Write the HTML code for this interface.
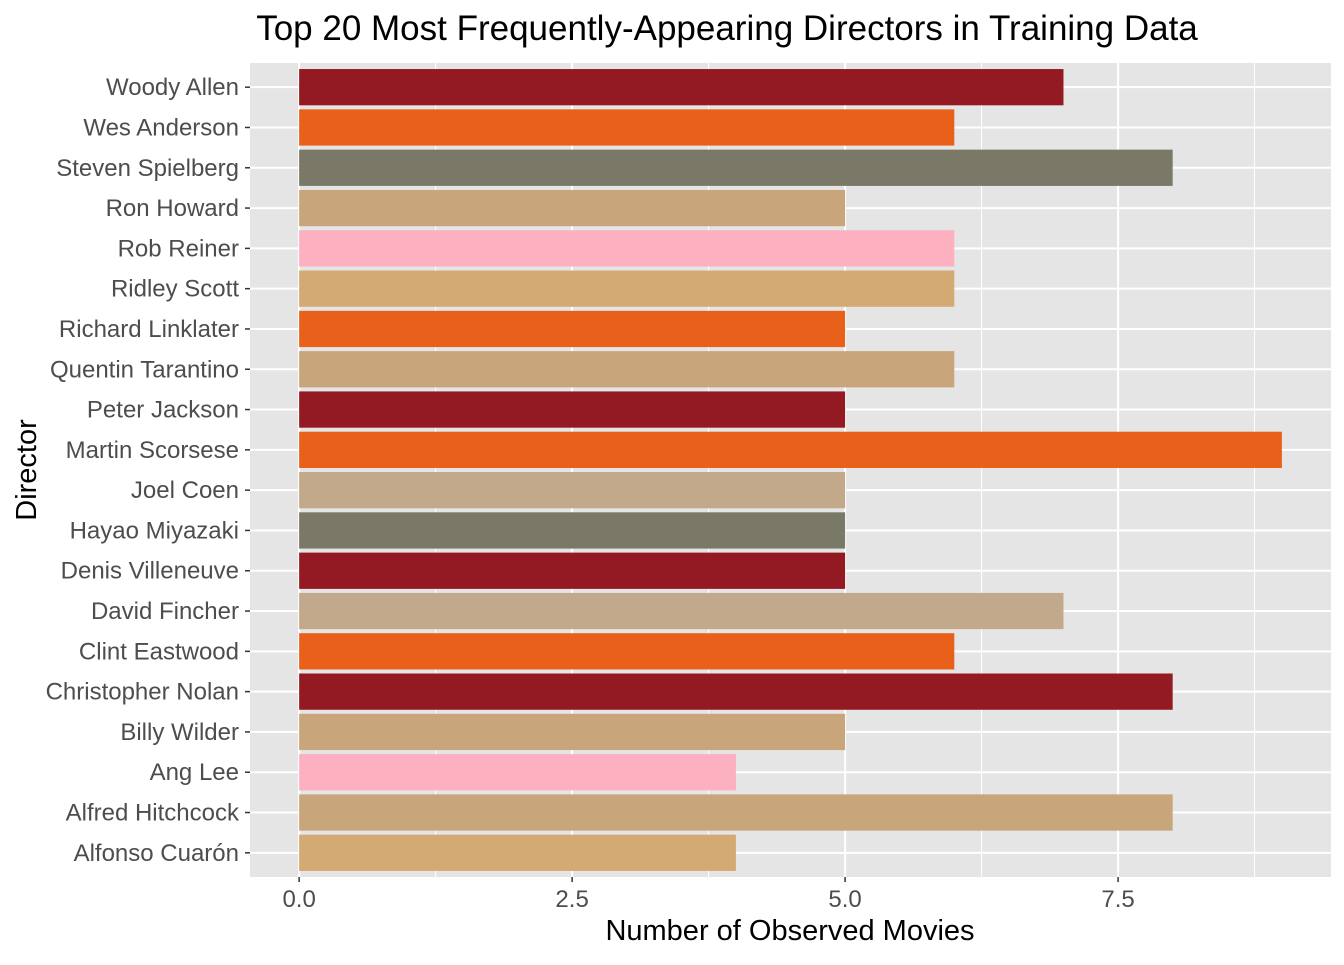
<!DOCTYPE html>
<html><head><meta charset="utf-8"><style>
body{margin:0;background:#fff;}
svg text{font-family:"Liberation Sans",Arial,sans-serif;}
</style></head><body>
<svg id="chart" width="1344" height="960" xmlns="http://www.w3.org/2000/svg">
<text x="727" y="40" font-size="35" text-anchor="middle" fill="#000">Top 20 Most Frequently-Appearing Directors in Training Data</text>
<rect x="250" y="63" width="1081" height="814" fill="#E5E5E5"/>
<g id="grid"></g><g id="bars"></g><g id="axes"></g>
<text x="790" y="940" font-size="29" text-anchor="middle" fill="#000">Number of Observed Movies</text>
<text transform="translate(36,470) rotate(-90)" font-size="29" text-anchor="middle" fill="#000">Director</text>
</svg>
<script>
const directors=["Woody Allen","Wes Anderson","Steven Spielberg","Ron Howard","Rob Reiner","Ridley Scott","Richard Linklater","Quentin Tarantino","Peter Jackson","Martin Scorsese","Joel Coen","Hayao Miyazaki","Denis Villeneuve","David Fincher","Clint Eastwood","Christopher Nolan","Billy Wilder","Ang Lee","Alfred Hitchcock","Alfonso Cuarón"];
const counts=[7,6,8,5,6,6,5,6,5,9,5,5,5,7,6,8,5,4,8,4];
const colors=["#931A22","#E8601A","#7A7866","#C8A57A","#FDB0C0","#D4AA74","#E8601A","#C8A57A","#931A22","#E8601A","#C2A98C","#7A7866","#931A22","#C2A98C","#E8601A","#931A22","#C8A57A","#FDB0C0","#C8A57A","#D4AA74"];
const xTicks=[0,2.5,5,7.5];
const xTickLabels=["0.0","2.5","5.0","7.5"];
const NS="http://www.w3.org/2000/svg";
const x0=250,x1=1331,y0=63,y1=877;
const xmin=-0.45,xmax=9.45;
const xs=v=>x0+(v-xmin)/(xmax-xmin)*(x1-x0);
const n=directors.length;
const step=(y1-y0)/(n-1+1.2);
const ys=i=>y0+step*(0.6+i);
function mk(tag,attrs,parent){const e=document.createElementNS(NS,tag);for(const k in attrs)e.setAttribute(k,attrs[k]);document.getElementById(parent).appendChild(e);return e;}
const minor=[1.25,3.75,6.25,8.75];
minor.forEach(v=>{const l=mk('line',{x1:xs(v),x2:xs(v),y1:y0,y2:y1,stroke:'#fff','stroke-width':1},'grid');

});
xTicks.forEach((v,i)=>{const l=mk('line',{x1:xs(v),x2:xs(v),y1:y0,y2:y1,stroke:'#fff','stroke-width':2},'grid');


const t=mk('line',{x1:xs(v),x2:xs(v),y1:y1,y2:y1+5,stroke:'#333','stroke-width':1.5},'axes');


const tx=mk('text',{x:xs(v),y:y1+30,'font-size':24,'text-anchor':'middle',fill:'#4D4D4D'},'axes');tx.textContent=xTickLabels[i];

});
directors.forEach((d,i)=>{const y=ys(i);
const g=mk('line',{x1:x0,x2:x1,y1:y,y2:y,stroke:'#fff','stroke-width':2},'grid');


const b=mk('rect',{x:xs(0),y:y-step*0.45,width:xs(counts[i])-xs(0),height:step*0.9,fill:colors[i]},'bars');


const t=mk('line',{x1:x0-5,x2:x0,y1:y,y2:y,stroke:'#333','stroke-width':1.5},'axes');


const tx=mk('text',{x:x0-11,y:y+8,'font-size':24,'text-anchor':'end',fill:'#4D4D4D'},'axes');tx.textContent=d;

});
</script>
</body></html>
